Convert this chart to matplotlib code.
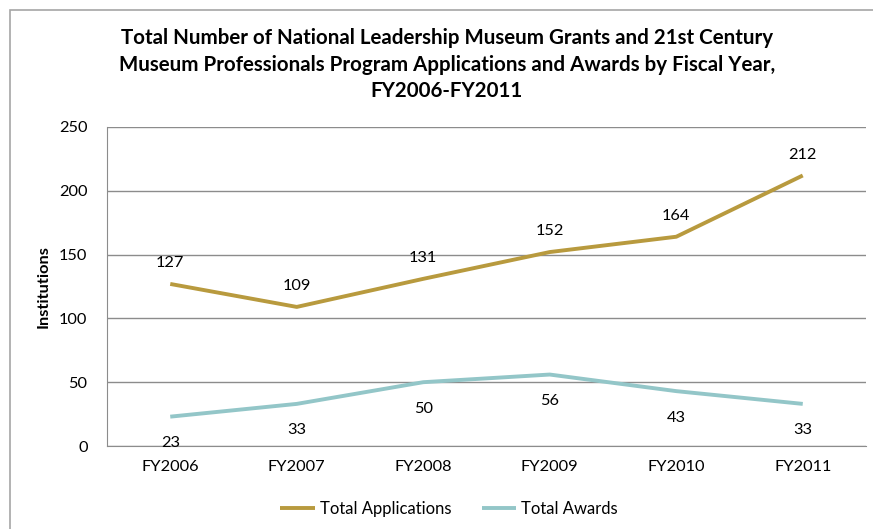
import matplotlib
matplotlib.use("Agg")
import matplotlib.pyplot as plt
from matplotlib.patches import Rectangle

years = ["FY2006", "FY2007", "FY2008", "FY2009", "FY2010", "FY2011"]
applications = [127, 109, 131, 152, 164, 212]
awards = [23, 33, 50, 56, 43, 33]
title = ("Total Number of National Leadership Museum Grants and 21st Century\n"
         "Museum Professionals Program Applications and Awards by Fiscal Year,\n"
         "FY2006-FY2011")

plt.rcParams['font.family'] = ['Lato', 'DejaVu Sans']
W, H = 873, 529
fig = plt.figure(figsize=(W/100, H/100), dpi=100)
fig.patch.set_facecolor('white')
fig.patches.append(Rectangle((10/W, -0.1), 1.2, (H-10)/H + 0.1, transform=fig.transFigure,
                             fill=False, edgecolor='#a6a6a6', lw=1.2))

ax = fig.add_axes([107/W, 1-446/H, (866-107)/W, (446-127)/H])
gold = '#B89A3E'
teal = '#93C6C8'
x = list(range(len(years)))
ax.plot(x, applications, color=gold, lw=2.8, solid_capstyle='butt', label='Total Applications')
ax.plot(x, awards, color=teal, lw=2.8, solid_capstyle='butt', label='Total Awards')
for xi, v in zip(x, applications):
    ax.annotate(str(v), (xi, v), xytext=(0, 10), textcoords='offset points',
                ha='center', va='bottom', fontsize=11.8, color='black')
for xi, v in zip(x, awards):
    ax.annotate(str(v), (xi, v), xytext=(0, -14), textcoords='offset points',
                ha='center', va='top', fontsize=11.8, color='black')

ax.set_xlim(-0.5, len(years) - 0.5)
ax.set_ylim(0, 250)
ax.set_yticks(range(0, 251, 50))
ax.set_xticks(x)
ax.set_xticklabels(years)
ax.grid(axis='y', color='#8c8c8c', lw=1)
ax.set_axisbelow(True)
for s in ['top', 'right']:
    ax.spines[s].set_visible(False)
ax.spines['left'].set_color('#8c8c8c')
ax.spines['bottom'].set_color('#8c8c8c')
ax.tick_params(axis='both', length=0, labelsize=11.8, pad=10)
ax.tick_params(axis='y', pad=14)
ax.set_ylabel('Institutions', fontsize=11.8, fontweight='bold', labelpad=6)

fig.text(447/W, 1-28/H, title, ha='center', va='top', fontsize=14.8, fontweight='bold',
         linespacing=1.42)
fig.legend(loc='center', bbox_to_anchor=(449/W, 1-509/H), ncol=2, frameon=False,
           fontsize=12, handlelength=2.05, handletextpad=0.3, columnspacing=1.85)

fig.savefig('out.png', dpi=100, facecolor='white')
